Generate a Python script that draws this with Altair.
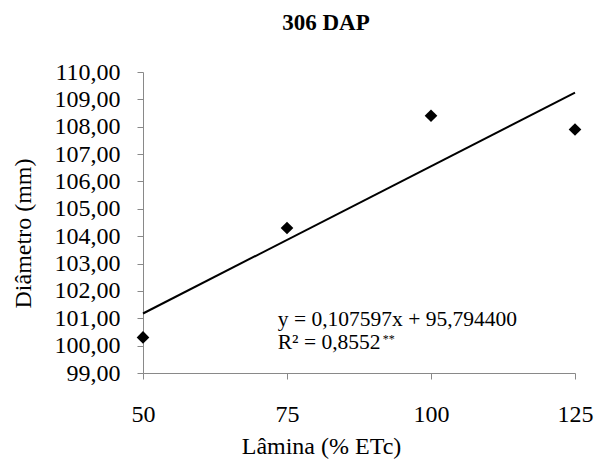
import altair as alt
import pandas as pd

laminas = [50, 75, 100, 125]
diametro = [100.3, 104.3, 108.4, 107.9]
slope = 0.107597
intercept = 95.7944
y_ticks = [99, 100, 101, 102, 103, 104, 105, 106, 107, 108, 109, 110]
x_ticks = [50, 75, 100, 125]
eq_text = "y = 0,107597x + 95,794400"
r2_text = "R² = 0,8552"

FONT = "Liberation Serif"
FS_AX = 24
FS_EQ = 21.5

pts = pd.DataFrame({"x": laminas, "y": diametro})
line_x = [laminas[0], laminas[-1]]
line_df = pd.DataFrame({"x": line_x, "y": [slope * v + intercept for v in line_x]})

xs = alt.Scale(domain=[50, 125], nice=False, zero=False)
ys = alt.Scale(domain=[99, 110], nice=False, zero=False)

xax = alt.Axis(values=x_ticks, tickCount=50, title="Lâmina (% ETc)",
               labelPadding=23, titleX=178, titlePadding=8)
yax = alt.Axis(values=y_ticks, tickCount=50, title="Diâmetro (mm)",
               labelExpr="replace(format(datum.value, '.2f'), '.', ',')",
               labelPadding=17,
               titleX=-120, titleY=161, titleAngle=270,
               titleAlign="center", titleBaseline="middle")

points = alt.Chart(pts).mark_point(shape="diamond", filled=True, color="black",
                                   size=160, opacity=1).encode(
    x=alt.X("x:Q", scale=xs, axis=xax),
    y=alt.Y("y:Q", scale=ys, axis=yax),
)

trend = alt.Chart(line_df).mark_line(color="black", strokeWidth=2).encode(
    x=alt.X("x:Q", scale=xs, axis=xax),
    y=alt.Y("y:Q", scale=ys, axis=yax),
)

ann = pd.DataFrame({"x": [73.4, 73.4], "y": [100.95, 100.08], "t": [eq_text, r2_text]})
ann_text = alt.Chart(ann).mark_text(align="left", baseline="middle", font=FONT,
                                    fontSize=FS_EQ, color="black").encode(
    x=alt.X("x:Q", scale=xs), y=alt.Y("y:Q", scale=ys), text="t:N")

sup = pd.DataFrame({"x": [73.4], "y": [100.08], "t": ["**"]})
sup_text = alt.Chart(sup).mark_text(align="left", baseline="middle", font=FONT,
                                    fontSize=12, color="black", dx=105, dy=-4).encode(
    x=alt.X("x:Q", scale=xs), y=alt.Y("y:Q", scale=ys), text="t:N")

chart = alt.layer(trend, points, ann_text, sup_text).properties(
    width=432, height=301,
    title=alt.TitleParams("306 DAP", font=FONT, fontSize=23, fontWeight="bold",
                          color="black", anchor="middle", dx=-33, offset=25),
    autosize=alt.AutoSizeParams(type="none"),
    padding={"left": 143, "top": 72, "right": 20, "bottom": 88},
).configure_view(stroke=None).configure_axis(
    grid=False, domainColor="#898989", tickColor="#898989", tickSize=6,
    labelFont=FONT, labelFontSize=FS_AX, labelColor="black",
    labelFlush=False, labelOverlap=False,
    titleFont=FONT, titleFontSize=FS_AX, titleFontWeight="normal", titleColor="black",
)

chart.save("out.html", embed_options={"renderer": "svg", "actions": False})
